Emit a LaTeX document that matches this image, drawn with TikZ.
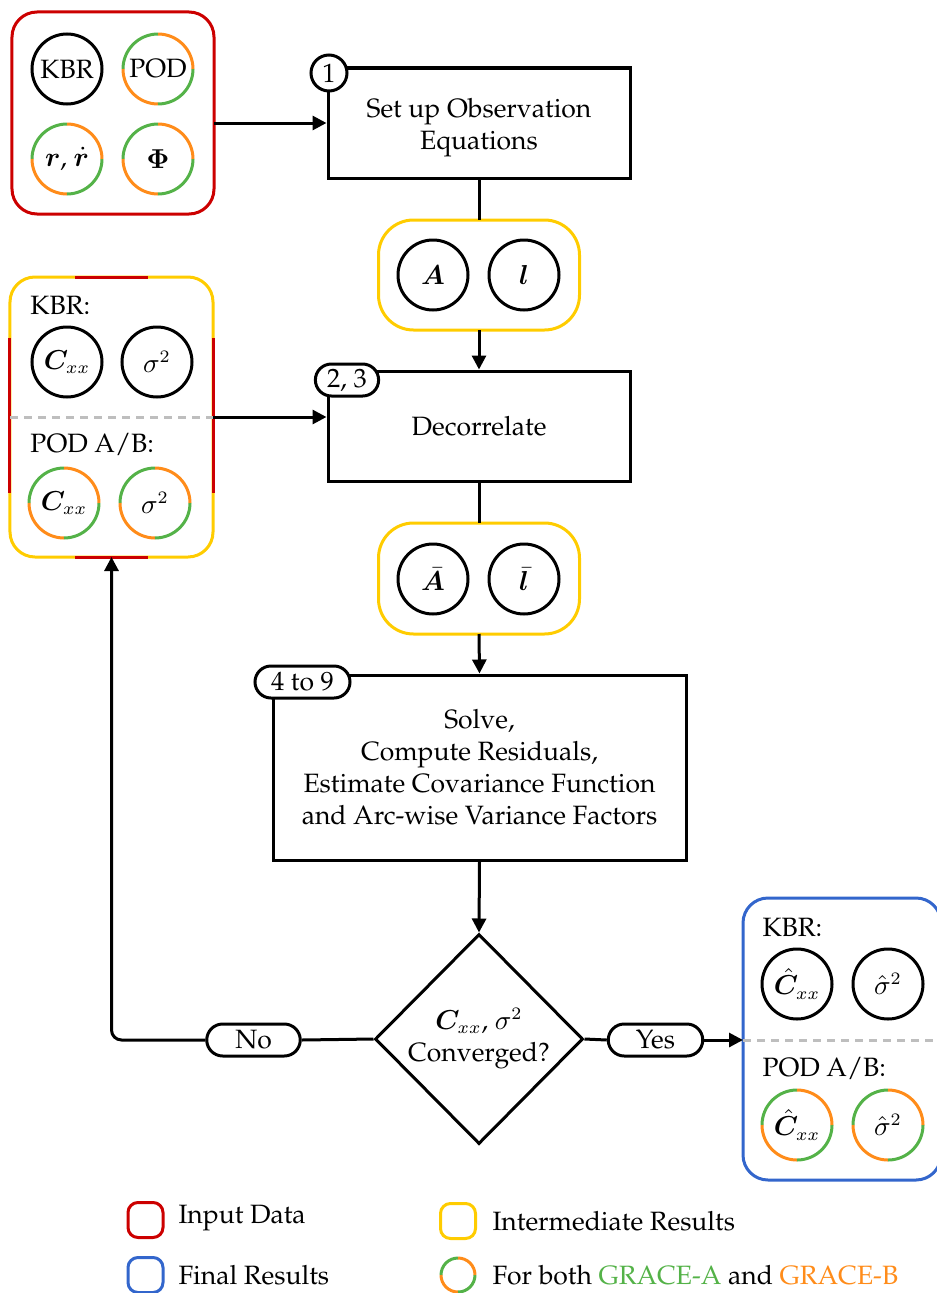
\documentclass[tikz,border=0pt]{standalone}
\usepackage[T1]{fontenc}
\renewcommand{\rmdefault}{ppl}
\usepackage{bm}
\usetikzlibrary{arrows.meta,shapes.geometric}
\definecolor{cred}{RGB}{204,0,0}
\definecolor{cyel}{RGB}{255,204,0}
\definecolor{cblue}{RGB}{51,102,204}
\definecolor{cgreen}{RGB}{84,178,72}
\definecolor{corange}{RGB}{255,140,26}
\definecolor{cgray}{RGB}{190,190,190}
\tikzset{
  box/.style={draw, line width=1.2pt, minimum width=120.8pt, minimum height=44pt, align=center, inner sep=0pt},
  circ/.style={circle, minimum size=28pt, inner sep=0pt, outer sep=0pt},
  bcirc/.style={circ, draw, line width=1.2pt},
  pill/.style={draw, fill=white, line width=1.2pt, rounded corners=6.4pt, minimum height=12.8pt, inner ysep=0pt, inner xsep=3.5pt},
  cont/.style={line width=1.2pt, rounded corners=10pt, inner sep=0pt, outer sep=0pt},
  arr/.style={line width=1.2pt, -{Triangle[length=5.6pt,width=5.6pt]}},
  ln/.style={line width=1.2pt},
  sep/.style={cgray, line width=1.2pt, dash pattern=on 3.2pt off 2.4pt},
  lbl/.style={anchor=west, inner sep=0pt},
  arcA/.style={cgreen, line width=1.2pt},
  arcB/.style={corange, line width=1.2pt},
}
\newcommand\gocirc[4]{%
  \node[circle, minimum size=#4*2, inner sep=0pt, outer sep=0pt] (#1) at (#2) {#3};
  \draw[arcA] (#1.north) arc[start angle=90,end angle=180,radius=#4];
  \draw[arcB] (#1.west) arc[start angle=180,end angle=270,radius=#4];
  \draw[arcA] (#1.south) arc[start angle=270,end angle=360,radius=#4];
  \draw[arcB] (#1.east) arc[start angle=0,end angle=90,radius=#4];
}
\begin{document}
\begin{tikzpicture}[x=0.4pt,y=-0.4pt, font=\fontsize{10.6}{12.8}\selectfont]
\useasboundingbox (0,0) rectangle (937,1293);

% ---------- containers ----------
\node[cont, draw=cred, minimum width=80.8pt, minimum height=80.8pt] (inbox) at (113,113) {};
\node[cont, draw=cyel, minimum width=81.2pt, minimum height=112pt] (leftbox) at (111.5,417) {};
\draw[cred, line width=1.2pt] (75,277) -- (148,277);
\draw[cred, line width=1.2pt] (75,557) -- (148,557);
\draw[cred, line width=1.2pt] (leftbox.west |- 0,338) -- (leftbox.west |- 0,493);
\draw[cred, line width=1.2pt] (leftbox.east |- 0,338) -- (leftbox.east |- 0,493);
\node[cont, draw=cyel, rounded corners=14pt, minimum width=80.4pt, minimum height=44pt] (yel1) at (479,275) {};
\node[cont, draw=cyel, rounded corners=14pt, minimum width=80.4pt, minimum height=44.4pt] (yel2) at (479,578.5) {};
\node[cont, draw=cblue, minimum width=79.2pt, minimum height=112.8pt] (bluebox) at (842,1039) {};

% ---------- input data ----------
\node[bcirc] (kbr) at (67,69) {KBR};
\gocirc{pod}{158,69}{POD}{14pt}
\gocirc{rr}{67,159}{$\bm{r}$, $\dot{\bm{r}}$}{14pt}
\gocirc{phi}{158,159}{$\bm{\Phi}$}{14pt}

% ---------- left box (covariances) ----------
\coordinate (sepL) at (111.5,417);
\draw[sep] (leftbox.west |- sepL) -- (leftbox.east |- sepL);
\node[lbl] (kbrL) at (30,305) {KBR:};
\node[bcirc] (cxxL) at (67,362) {$\bm{C}_{xx}$};
\node[bcirc] (sigL) at (157,362) {$\sigma^2$};
\node[lbl] (podL) at (30,445) {POD A/B:};
\gocirc{cxxLP}{64,503}{$\bm{C}_{xx}$}{14pt}
\gocirc{sigLP}{155,503}{$\sigma^2$}{14pt}

% ---------- intermediate ----------
\node[bcirc] (A) at (433,275) {$\bm{A}$};
\node[bcirc] (l) at (524,275) {$\bm{l}$};
\node[bcirc] (Ab) at (433,579) {$\bar{\bm{A}}$};
\node[bcirc] (lb) at (524,579) {$\bar{\bm{l}}$};

% ---------- process boxes ----------
\node[box] (b1) at (479,123) {};
\node[align=center, inner sep=0pt] (b1t) at (479,128) {Set up Observation\\Equations};
\node[box] (b2) at (479,426) {Decorrelate};
\node[box, minimum width=165.2pt, minimum height=74pt] (b3) at (479.5,767.5) {Solve,\\Compute Residuals,\\Estimate Covariance Function\\and Arc-wise Variance Factors};
\node[diamond, draw, line width=1.2pt, aspect=1, minimum width=83.2pt, minimum height=84pt, inner sep=0pt, align=center] (dia) at (479,1039) {$\bm{C}_{xx}$, $\sigma^2$\\Converged?};

% ---------- step labels ----------
\node[circle, draw, fill=white, line width=1.2pt, minimum size=14.4pt, inner sep=0pt] (s1) at (329,73) {1};
\node[pill, inner xsep=4.7pt] (s2) at (347,380) {2, 3};
\node[pill, minimum width=38pt] (s3) at (302.5,682) {4 to 9};

% ---------- final results ----------
\coordinate (sepR) at (842,1040);
\draw[sep] (bluebox.west |- sepR) -- (937,1040);
\node[lbl] (kbrR) at (762,927) {KBR:};
\node[bcirc] (cxxR) at (797,984) {$\hat{\bm{C}}_{xx}$};
\node[bcirc] (sigR) at (888,984) {$\hat{\sigma}^2$};
\node[lbl] (podR) at (762,1068) {POD A/B:};
\gocirc{cxxRP}{797,1125}{$\hat{\bm{C}}_{xx}$}{14pt}
\gocirc{sigRP}{888,1125}{$\hat{\sigma}^2$}{14pt}

% ---------- decision pills ----------
\node[pill, minimum width=37.4pt] (no) at (253.5,1040) {No};
\node[pill, minimum width=37.8pt] (yes) at (655.5,1040) {Yes};

% ---------- connectors ----------
\draw[arr] (inbox.east |- b1.west) -- (b1.west);
\draw[ln] (b1.south) -- (yel1.north);
\draw[arr] (yel1.south) -- (b2.north);
\draw[arr] (leftbox.east |- sepL) -- (b2.west |- sepL);
\draw[ln] (b2.south) -- (yel2.north);
\draw[arr] (yel2.south) -- (b3.north);
\draw[arr] (b3.south) -- (dia.north);
\draw[ln] (dia.west) -- (no.east);
\draw[arr, rounded corners=4pt] (no.west) -| (leftbox.south);
\draw[ln] (dia.east) -- (yes.west);
\draw[arr] (yes.east) -- (bluebox.west |- yes.east);

% ---------- legend ----------
\node[draw=cred, line width=1.2pt, rounded corners=4pt, minimum size=14pt, inner sep=0pt] (lg1) at (145.5,1220) {};
\node[lbl] (lt1) at (178,1218) {Input Data};
\node[draw=cyel, line width=1.2pt, rounded corners=4pt, minimum size=14pt, inner sep=0pt] (lg2) at (458,1221) {};
\node[lbl] (lt2) at (492,1221) {Intermediate Results};
\node[draw=cblue, line width=1.2pt, rounded corners=4pt, minimum size=14pt, inner sep=0pt] (lg3) at (145.5,1275) {};
\node[lbl] (lt3) at (178,1275) {Final Results};
\gocirc{lg4}{458,1275}{}{6.8pt}
\node[lbl] (lt4) at (492,1275) {For both \textcolor{cgreen}{GRACE-A} and \textcolor{corange}{GRACE-B}};
\end{tikzpicture}
\end{document}
